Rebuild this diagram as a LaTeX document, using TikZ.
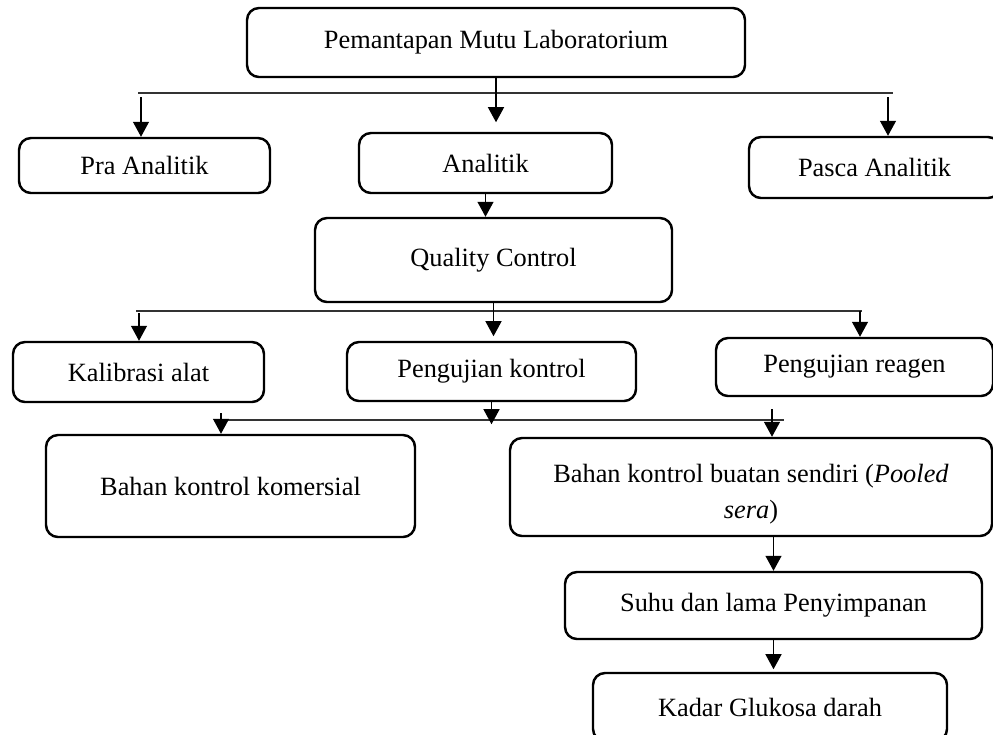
\documentclass[tikz,border=0pt]{standalone}
\usepackage{fontspec}
\setmainfont{Liberation Serif}
\usetikzlibrary{arrows.meta}
\begin{document}
\begin{tikzpicture}[
        box/.style={draw, line width=1.4pt, rounded corners=2.4mm, align=center,
            font=\fontsize{15}{19.5}\selectfont},
        arr/.style={line width=0.7pt, -{Triangle[width=3.2mm,length=3mm]}},
        bus/.style={line width=0.6pt, draw=black!80}
    ]
    \clip (0,0) rectangle (19.86,-14.68);

    % level 1
    \node[
        box,
        minimum width=9.96cm,
        minimum height=1.38cm,
        name=top
    ] at (9.92,-0.85) {Pemantapan Mutu Laboratorium};

    % level 2
    \node[
        box,
        minimum width=5.02cm,
        minimum height=1.10cm,
        name=pra
    ] at (2.89,-3.31) {Pra Analitik};
    \node[
        box,
        minimum width=5.06cm,
        minimum height=1.20cm,
        name=anal
    ] at (9.71,-3.26) {Analitik};
    \node[
        box,
        minimum width=5.02cm,
        minimum height=1.22cm,
        name=pasca
    ] at (17.49,-3.35) {Pasca Analitik};

    \node[
        box,
        minimum width=7.14cm,
        minimum height=1.68cm,
        name=qc
    ] at (9.87,-5.20) {Quality Control};

    % level 3
    \node[
        box,
        minimum width=5.02cm,
        minimum height=1.20cm,
        name=kal
    ] at (2.77,-7.44) {Kalibrasi alat};
    \node[
        box,
        minimum width=5.78cm,
        minimum height=1.18cm,
        name=pk
    ] at (9.83,-7.43) {Pengujian kontrol};
    \node[
        box,
        minimum width=5.54cm,
        minimum height=1.16cm,
        name=pr
    ] at (17.09,-7.34) {Pengujian reagen};

    % level 4
    \node[
        box,
        minimum width=7.38cm,
        minimum height=2.04cm,
        name=bkk
    ] at (4.61,-9.72) {Bahan kontrol komersial};
    \node[
        box,
        minimum width=9.64cm,
        minimum height=1.96cm,
        name=bbs
    ] at (15.02,-9.74) {\rule{0pt}{19pt}Bahan kontrol buatan sendiri (\textit{Pooled}\\[1pt]\textit{sera})};

    \node[
        box,
        minimum width=8.34cm,
        minimum height=1.34cm,
        name=suhu
    ] at (15.47,-12.11) {Suhu dan lama Penyimpanan};
    \node[
        box,
        minimum width=7.08cm,
        minimum height=1.36cm,
        name=kadar
    ] at (15.40,-14.14) {Kadar Glukosa darah};

    % bus points
    \coordinate (p1l) at (2.76,-1.86);
    \coordinate (p1r) at (17.86,-1.86);
    \coordinate (p1a) at (2.82,-1.94);
    \coordinate (p1c) at (17.76,-1.94);
    \coordinate (p2l) at (2.72,-6.22);
    \coordinate (p2r) at (17.24,-6.22);
    \coordinate (p2a) at (2.78,-6.26);
    \coordinate (p2c) at (17.20,-6.22);
    \coordinate (p3l) at (4.54,-8.40);
    \coordinate (p3r) at (15.68,-8.40);
    \coordinate (p3a) at (4.42,-8.26);
    \coordinate (p3c) at (15.44,-8.18);

    \draw[bus] (p1l) -- (p1r);
    \draw[arr] (p1a) -- (p1a |- pra.north);
    \draw[arr] (top.south) -- ++(0,-0.88);
    \draw[arr] (p1c) -- (p1c |- pasca.north);

    \draw[arr] (anal.south) -- (anal.south |- qc.north);

    \draw[bus] (p2l) -- (p2r);
    \draw[arr] (p2a) -- (p2a |- kal.north);
    \draw[arr] (qc.south) -- ++(0,-0.66);
    \draw[arr] (p2c) -- (p2c |- pr.north);

    \draw[bus] (p3l) -- (p3r);
    \draw[arr] (p3a) -- (p3a |- bkk.north);
    \draw[arr] (pk.south) -- ++(0,-0.44);
    \draw[arr] (p3c) -- (p3c |- bbs.north);

    \draw[arr] (suhu.north |- bbs.south) -- (suhu.north);
    \draw[arr] (suhu.south) -- ++(0,-0.58);
\end{tikzpicture}
\end{document}
